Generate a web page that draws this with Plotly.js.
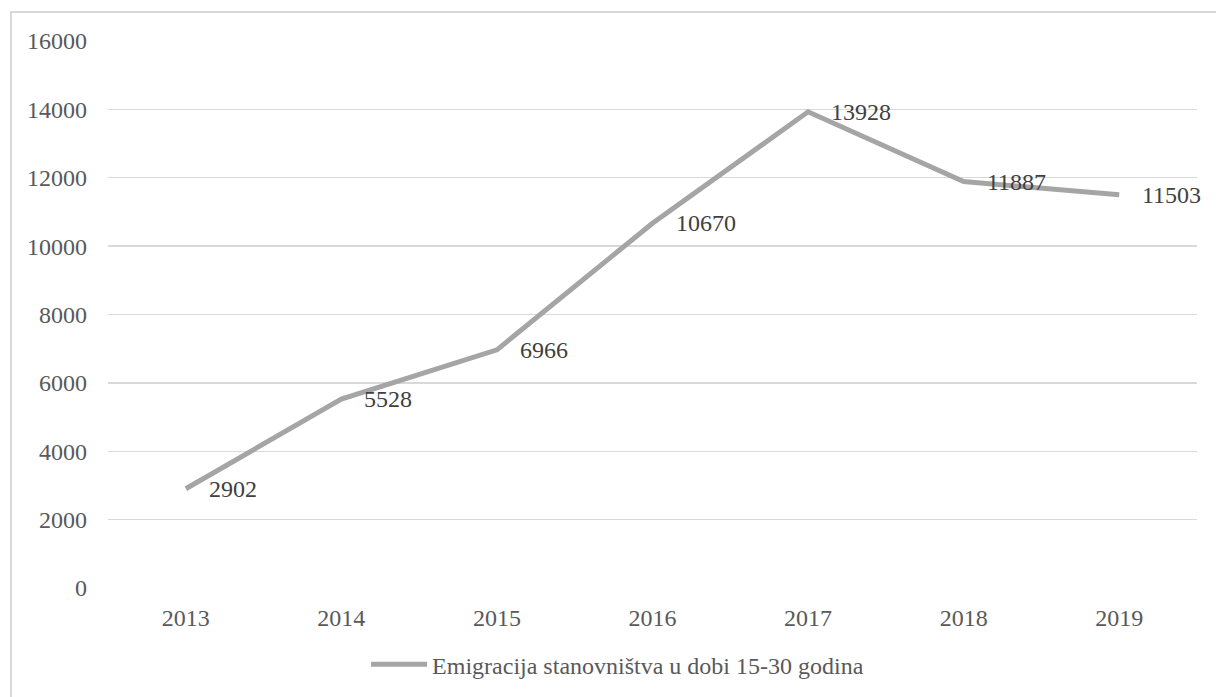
<!DOCTYPE html>
<html>
<head>
<meta charset="utf-8">
<script src="https://cdn.plot.ly/plotly-3.0.1.min.js"></script>
<style>
html,body{margin:0;padding:0;background:#fff;}
#wrap{position:relative;width:1216px;height:697px;overflow:hidden;}
#chart{width:1216px;height:697px;}
#frame{position:absolute;left:10px;top:11px;width:1300px;height:800px;border-left:2px solid #D9D9D9;border-top:2px solid #D9D9D9;pointer-events:none;}
</style>
</head>
<body>
<div id="wrap"><div id="chart"></div><div id="frame"></div></div>
<script>
var years = ["2013", "2014", "2015", "2016", "2017", "2018", "2019"];
var emigration = [2902, 5528, 6966, 10670, 13928, 11887, 11503];
var seriesName = "Emigracija stanovništva u dobi 15-30 godina";
var yTicks = [0, 2000, 4000, 6000, 8000, 10000, 12000, 14000, 16000];

var font = "Liberation Serif, Times New Roman, serif";

var trace = {
  x: years,
  y: emigration,
  type: "scatter",
  mode: "lines",
  name: seriesName,
  line: {color: "#A5A5A5", width: 5},
  showlegend: true,
  cliponaxis: false
};

var annotations = [];
for (var i = 0; i < years.length; i++) {
  annotations.push({
    x: i, y: emigration[i], xref: "x", yref: "y",
    text: String(emigration[i]), showarrow: false,
    xanchor: "left", yanchor: "middle", xshift: 21,
    font: {family: font, size: 24, color: "#404040"}
  });
}

var layout = {
  width: 1216, height: 697,
  margin: {l: 108, r: 19, t: 41, b: 109, pad: 0, autoexpand: false},
  paper_bgcolor: "#ffffff", plot_bgcolor: "#ffffff",
  font: {family: font, size: 24, color: "#595959"},
  xaxis: {
    type: "category", range: [-0.5, 6.5],
    showgrid: false, zeroline: false, showline: false,
    ticks: "", tickfont: {family: font, size: 24, color: "#595959"},
    ticklabelstandoff: 13
  },
  yaxis: {
    range: [0, 16000], tickvals: yTicks, ticktext: yTicks.map(String),
    showgrid: true, gridcolor: "#D9D9D9", gridwidth: 1.3,
    zeroline: false, showline: false, ticks: "",
    tickfont: {family: font, size: 24, color: "#595959"},
    ticklabelstandoff: 20
  },
  showlegend: true,
  legend: {
    orientation: "h", x: 0.237, xanchor: "left", y: -0.14, yanchor: "middle",
    font: {family: font, size: 24, color: "#595959"},
    itemwidth: 56, bgcolor: "rgba(0,0,0,0)"
  },
  annotations: annotations
};

Plotly.newPlot("chart", [trace], layout, {displayModeBar: false, staticPlot: true});
</script>
</body>
</html>
